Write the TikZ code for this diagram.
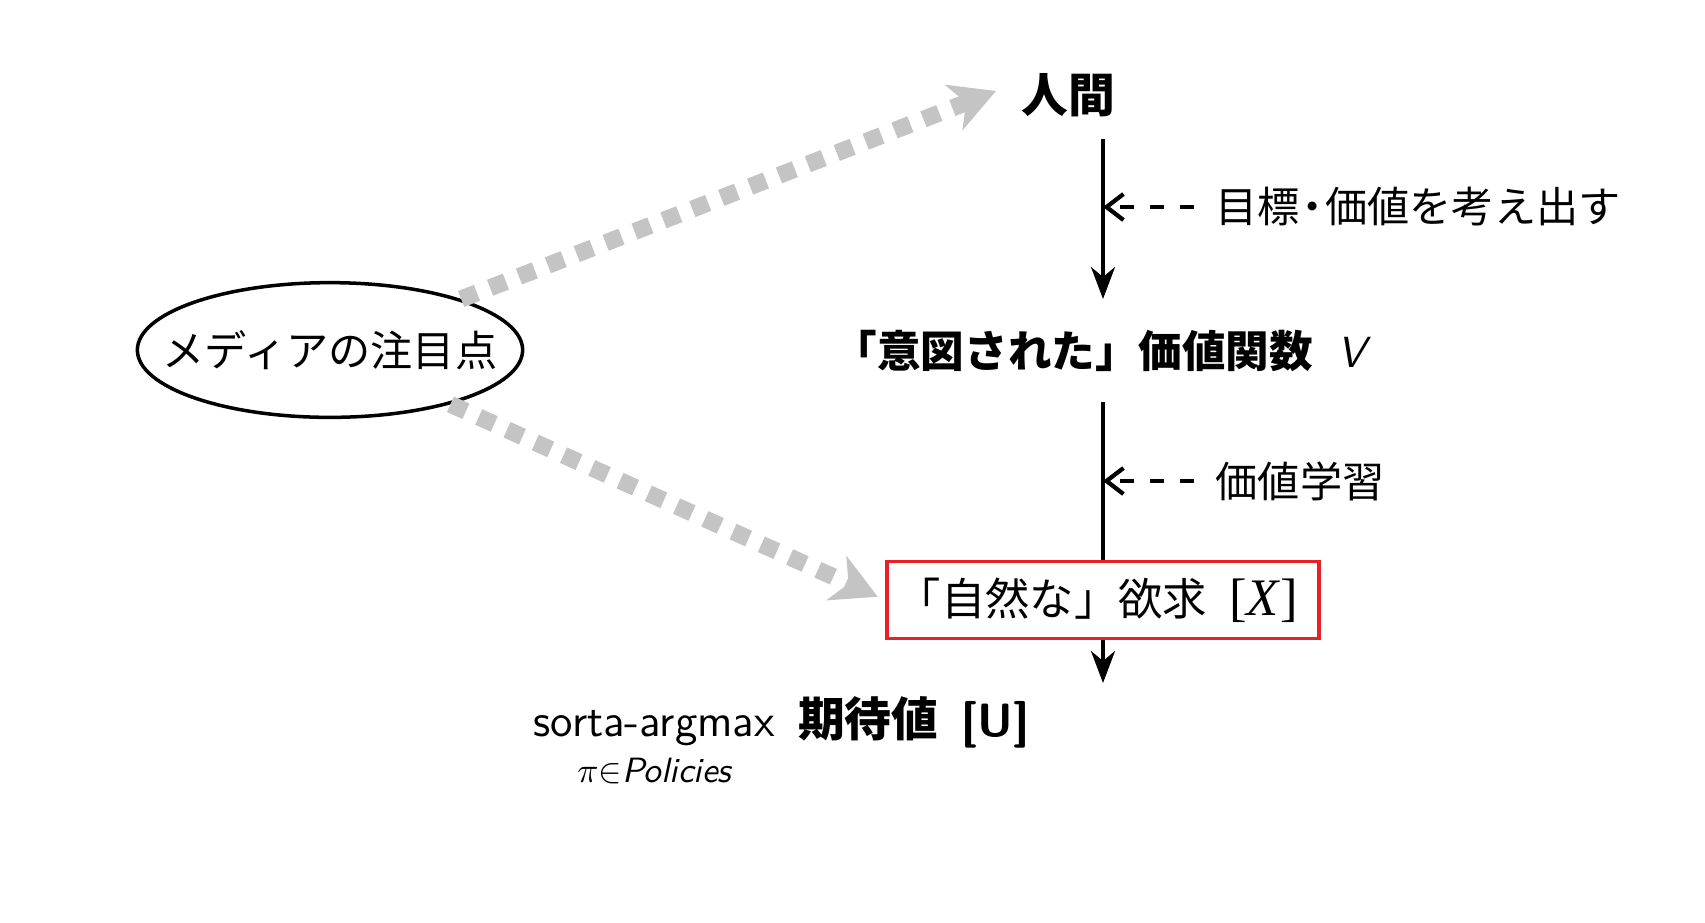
\documentclass[tikz,border=0pt]{standalone}
\usepackage{amsmath}
\usepackage{fontspec}
\newfontfamily\jp{Noto Sans CJK JP}
\newfontfamily\serifx{Liberation Serif}
\usetikzlibrary{arrows.meta,shapes.geometric}
\definecolor{dotgray}{RGB}{196,196,196}
\definecolor{boxred}{RGB}{232,32,40}
\begin{document}
\begin{tikzpicture}[x=0.1mm,y=-0.1mm,
  jpreg/.style={font=\jp\fontsize{12pt}{14pt}\selectfont, inner sep=0pt},
  jpbold/.style={font=\jp\bfseries\fontsize{13.3pt}{15pt}\selectfont, inner sep=0pt},
  lat/.style={font=\sffamily\fontsize{13pt}{15pt}\selectfont, inner sep=0pt},
  subtext/.style={font=\fontsize{10pt}{12pt}\selectfont, inner sep=0pt},
  vline/.style={line width=1.1pt, -{Stealth[length=3.2mm,width=2.4mm,inset=1mm]}},
  plainline/.style={line width=1.1pt},
  sidearrow/.style={line width=1.2pt, dash pattern=on 1.4mm off 1.6mm,
     -{Straight Barb[length=1.7mm,width=2.6mm]}, shorten <=2.1mm},
  dotarrow/.style={dotgray, line width=1.7mm, dash pattern=on 1.7mm off 1.4mm,
     -{Stealth[length=4.5mm,width=4.8mm,inset=1.3mm]}},
  mediabox/.style={ellipse, draw, line width=1pt, inner xsep=-3.1mm, inner ysep=2.8mm,
     font=\jp\fontsize{12pt}{14pt}\selectfont},
  redbox/.style={draw=boxred, line width=1.1pt, minimum width=43.2mm, minimum height=7.7mm,
     inner sep=0pt, font=\jp\fontsize{12.6pt}{15pt}\selectfont}
]
\useasboundingbox (0,0) rectangle (1705,922);

% nodes
\node[jpbold] (human) at (1068,95) {人間};
\node[jpbold, font=\jp\bfseries\fontsize{12.4pt}{15pt}\selectfont, anchor=west] (intended) at (833,351)
  {「意図された」価値関数\hspace{0.55em}{\sffamily\mdseries\itshape V}};
\node[redbox] (natural) at (1103,600)
  {\hspace*{-1.1mm}「自然な」欲求\hspace{0.5em}{\serifx\fontsize{15pt}{17pt}\selectfont[\textit{X}]}\hspace{4.1mm}};
\node[mediabox] (media) at (330,350) {メディアの注目点};

\node[lat, anchor=base west] (argmax) at (533,736) {sorta-argmax};
\node[jpbold, anchor=base west] (expect) at ([xshift=2.2mm]argmax.base east) {期待値\hspace{0.5em}\textsf{\bfseries [U]}};
\node[subtext, anchor=north] (sub) at ([yshift=-1.1mm]argmax.south) {$\pi{\in}\textsf{\itshape Policies}$};

\node[jpreg, anchor=west] (lab1) at (1215,207) {目標{\makebox[0.6em][c]{・}}価値を考え出す};
\node[jpreg, anchor=west] (lab2) at (1215,481) {価値学習};

% coordinates
\coordinate (v1top) at (1103,139);
\coordinate (v1bot) at (1103,299);
\coordinate (v2top) at (1103,402);
\coordinate (v3bot) at (1103,683);
\coordinate (tiptop) at (996,91);

% vertical connectors
\draw[vline] (v1top) -- (v1bot);
\draw[plainline] (v2top) -- (natural.north);
\draw[vline] (natural.south) -- (v3bot);

% side dashed arrows
\draw[sidearrow] (lab1.west) -- (lab1.west -| v1top);
\draw[sidearrow] (lab2.west) -- (lab2.west -| v2top);

% gray dotted arrows
\draw[dotarrow] (media) -- (tiptop);
\draw[dotarrow, shorten >=0.8mm] (media) -- (natural.west);
\end{tikzpicture}
\end{document}
